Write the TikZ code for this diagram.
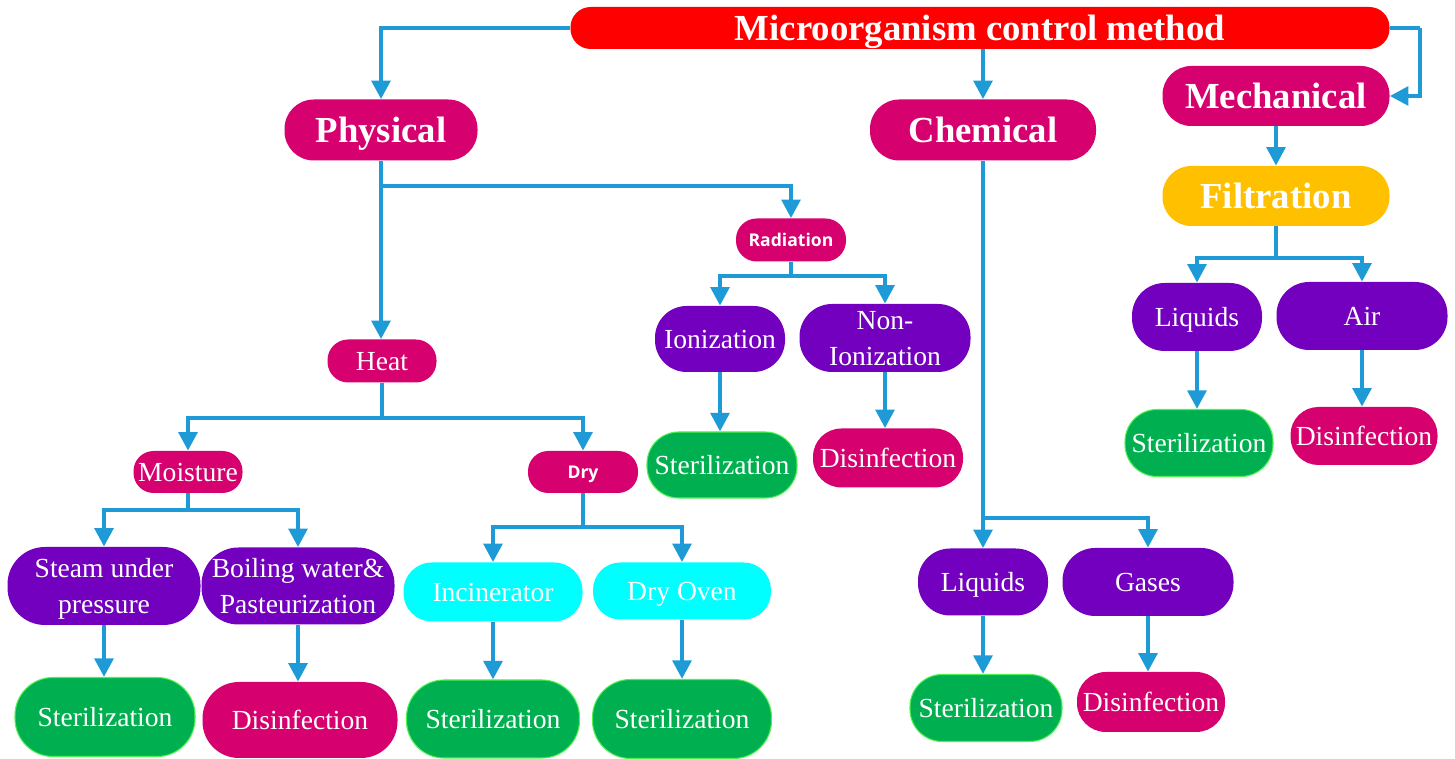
\documentclass[tikz,border=0pt]{standalone}
\usepackage{fontspec}
\setmainfont{Liberation Serif}
\newfontfamily\uisans{Open Sans}
\usetikzlibrary{arrows.meta}
\definecolor{cRed}{HTML}{FF0000}
\definecolor{cMag}{HTML}{D6006E}
\definecolor{cPur}{HTML}{7200BE}
\definecolor{cGrn}{HTML}{00B050}
\definecolor{cGrnEdge}{HTML}{50F050}
\definecolor{cCyan}{HTML}{00FFFF}
\definecolor{cOrange}{HTML}{FFC000}
\definecolor{cLine}{HTML}{1E9BD7}
\begin{document}
\begin{tikzpicture}[x=0.02cm,y=-0.02cm,
  pill/.style 2 args={rounded corners={#2*0.0096cm}, minimum width={#1*0.02cm},
    minimum height={#2*0.02cm}, inner sep=0pt, align=center, text=white},
  big/.style={font=\fontsize{20.9}{22}\selectfont\bfseries, text height=13.9pt, text depth=0pt},
  mid/.style={font=\fontsize{15.7}{20.5}\selectfont, text height=10.4pt, text depth=0pt},
  twoline/.style={mid, text height=30.9pt},
  tag/.style={font=\uisans\fontsize{10}{11}\selectfont\bfseries, text height=7.1pt, text depth=0pt},
  fred/.style={fill=cRed},
  fmag/.style={fill=cMag},
  fpur/.style={fill=cPur},
  fgrn/.style={fill=cGrn, draw=cGrnEdge, line width=0.6pt},
  fcyan/.style={fill=cCyan},
  forange/.style={fill=cOrange},
  conn/.style={draw=cLine, line width=2.4pt,
    -{Triangle[width=0.37cm,length=0.37cm]}},
  stem/.style={draw=cLine, line width=2.4pt}]
\useasboundingbox (0,0) rectangle (1455,759);

% root and main branches
\node[pill={819}{42}, fred, big] (top) at (980,28) {Microorganism control method};
\node[pill={193}{61}, fmag, big] (phys) at (381,130) {Physical};
\node[pill={226}{61}, fmag, big] (chem) at (983,130) {Chemical};
\node[pill={227}{60}, fmag, big] (mech) at (1276,96) {Mechanical};
\node[pill={227}{60}, forange, big] (filt) at (1276,196) {Filtration};

% physical: radiation
\node[pill={110}{43}, fmag, tag] (rad) at (791,240) {Radiation};
\node[pill={130}{66}, fpur, mid] (ion) at (720,339) {Ionization};
\node[pill={171}{68}, fpur, twoline] (nonion) at (885,338) {Non-\\Ionization};
\node[pill={150}{66}, fgrn, mid] (rster) at (722,465) {Sterilization};
\node[pill={150}{59}, fmag, mid] (rdis) at (888,458) {Disinfection};

% physical: heat
\node[pill={109}{43}, fmag, mid] (heat) at (382,361) {Heat};
\node[pill={109}{42}, fmag, mid] (moist) at (188,472) {Moisture};
\node[pill={110}{42}, fmag, tag] (dry) at (583,472) {Dry};
\node[pill={193}{78}, fpur, twoline] (steam) at (104,586) {Steam under\\pressure};
\node[pill={193}{77}, fpur, twoline] (boil) at (298,586) {Boiling water\&\\Pasteurization};
\node[pill={180}{79}, fgrn, mid] (ster1) at (105,717) {Sterilization};
\node[pill={195}{76}, fmag, mid] (dis1) at (300,720) {Disinfection};
\node[pill={179}{59}, fcyan, mid] (incin) at (493,592) {Incinerator};
\node[pill={178}{57}, fcyan, mid] (oven) at (682,591) {Dry Oven};
\node[pill={173}{78}, fgrn, mid] (ster2) at (493,719) {Sterilization};
\node[pill={179}{79}, fgrn, mid] (ster3) at (682,719) {Sterilization};

% chemical
\node[pill={130}{67}, fpur, mid] (cliq) at (983,582) {Liquids};
\node[pill={171}{68}, fpur, mid] (gases) at (1148,582) {Gases};
\node[pill={152}{67}, fgrn, mid] (ster4) at (986,708) {Sterilization};
\node[pill={148}{60}, fmag, mid] (dis2) at (1151,702) {Disinfection};

% mechanical: filtration
\node[pill={130}{68}, fpur, mid] (fliq) at (1197,317) {Liquids};
\node[pill={171}{68}, fpur, mid] (air) at (1362,316) {Air};
\node[pill={148}{67}, fgrn, mid] (ster5) at (1199,443) {Sterilization};
\node[pill={147}{58}, fmag, mid] (dis3) at (1364,436) {Disinfection};

% junction points of the branching connectors
\coordinate (pj) at (381,186);
\coordinate (rj) at (791,276);
\coordinate (hj) at (382,418);
\coordinate (mj) at (188,510);
\coordinate (dj) at (583,527);
\coordinate (cj) at (983,518);
\coordinate (fj) at (1276,258);
\coordinate (tr) at (1420,28);

% root connectors
\draw[conn] (top.west) -| (phys.north);
\draw[conn] (top.south -| chem.north) -- (chem.north);
\draw[stem] (top.east) -- (tr);
\draw[conn] (tr) |- (mech.east);

% physical
\draw[conn] (phys.south) -- (phys.south |- heat.north);
\draw[conn] (pj) -| (rad.north);
\draw[stem] (rad.south) -- (rj);
\draw[conn] (rj) -| (ion.north);
\draw[conn] (rj) -| (nonion.north);
\draw[conn] (ion.south) -- (ion.south |- rster.north);
\draw[conn] (nonion.south) -- (nonion.south |- rdis.north);

\draw[stem] (heat.south) -- (hj);
\draw[conn] (hj) -| (moist.north);
\draw[conn] (hj) -| (dry.north);
\draw[stem] (moist.south) -- (mj);
\draw[conn] (mj) -| (steam.north);
\draw[conn] (mj) -| (boil.north);
\draw[conn] (steam.south) -- (steam.south |- ster1.north);
\draw[conn] (boil.south) -- (boil.south |- dis1.north);
\draw[stem] (dry.south) -- (dj);
\draw[conn] (dj) -| (incin.north);
\draw[conn] (dj) -| (oven.north);
\draw[conn] (incin.south) -- (ster2.north);
\draw[conn] (oven.south) -- (ster3.north);

% chemical
\draw[conn] (chem.south) -- (cliq.north);
\draw[conn] (cj) -| (gases.north);
\draw[conn] (cliq.south) -- (cliq.south |- ster4.north);
\draw[conn] (gases.south) -- (gases.south |- dis2.north);

% mechanical
\draw[conn] (mech.south) -- (filt.north);
\draw[stem] (filt.south) -- (fj);
\draw[conn] (fj) -| (fliq.north);
\draw[conn] (fj) -| (air.north);
\draw[conn] (fliq.south) -- (fliq.south |- ster5.north);
\draw[conn] (air.south) -- (air.south |- dis3.north);
\end{tikzpicture}
\end{document}
